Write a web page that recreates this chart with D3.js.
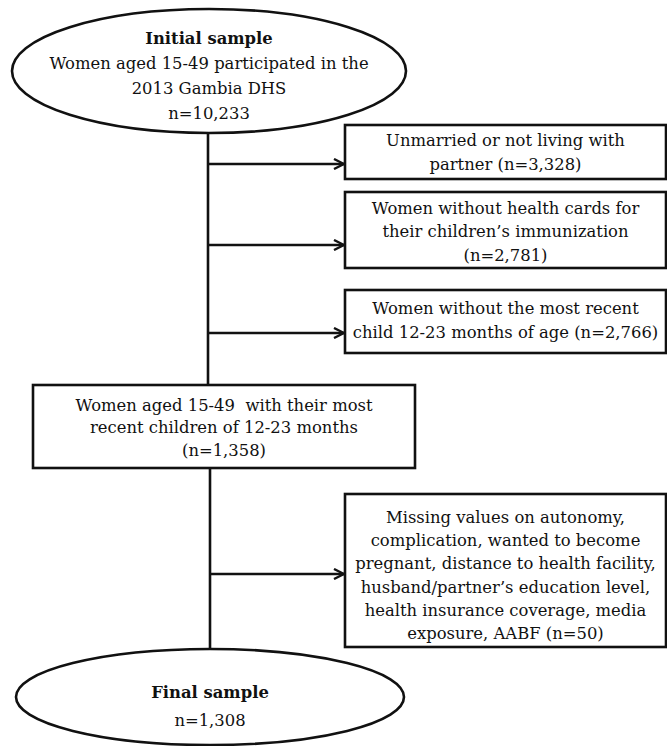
<!DOCTYPE html>
<html>
<head>
<meta charset="utf-8">
<script src="https://cdn.jsdelivr.net/npm/d3@7"></script>
<style>
  body { margin: 0; background: #fff; }
  text { font-family: "DejaVu Serif", serif; fill: #111; white-space: pre; }
</style>
</head>
<body>
<div id="chart"></div>
<script>
// Flow of the sample, top to bottom
var stageTitles = ["Initial sample", null, "Final sample"];
var stageLines = [
    ["Women aged 15-49 participated in the", "2013 Gambia DHS", "n=%n"],
    ["Women aged 15-49  with their most", "recent children of 12-23 months", "(n=%n)"],
    ["n=%n"]
];
var stageCounts = [10233, 1358, 1308];

// Excluded groups, in order
var exclusionLines = [
    ["Unmarried or not living with", "partner (n=%n)"],
    ["Women without health cards for", "their children\u2019s immunization", "(n=%n)"],
    ["Women without the most recent", "child 12-23 months of age (n=%n)"],
    ["Missing values on autonomy,", "complication, wanted to become", "pregnant, distance to health facility,",
        "husband/partner\u2019s education level,", "health insurance coverage, media", "exposure, AABF (n=%n)"]
];
var exclusionCounts = [3328, 2781, 2766, 50];

// Layout (pixels)
var opts = {
    width: 667,
    height: 746,
    fontSize: 16.4,
    stroke: 2.6,
    stages: [
        { shape: "ellipse", cx: 209, cy: 71, rx: 197, ry: 62, firstLine: 38, lineHeight: 25 },
        { shape: "rect", x: 33, y: 385, w: 382, h: 83, firstLine: 405, lineHeight: 22.5 },
        { shape: "ellipse", cx: 210, cy: 697, rx: 194, ry: 48, firstLine: 692, lineHeight: 28 }
    ],
    exclusions: [
        { y: 125, h: 54, firstLine: 140, lineHeight: 24, arrowY: 164, trunkX: 208 },
        { y: 192, h: 76, firstLine: 208, lineHeight: 23.5, arrowY: 245, trunkX: 208 },
        { y: 290, h: 63, firstLine: 308, lineHeight: 24, arrowY: 333, trunkX: 208 },
        { y: 494, h: 153, firstLine: 517, lineHeight: 23.3, arrowY: 574, trunkX: 210 }
    ],
    boxLeft: 345,
    boxRight: 666
};

var fmt = d3.format(",");

var svg = d3.select("#chart")
    .append("svg")
    .attr("width", opts.width)
    .attr("height", opts.height);

svg.append("defs").append("marker")
    .attr("id", "arrow")
    .attr("viewBox", "0 0 12 12")
    .attr("refX", 11)
    .attr("refY", 6)
    .attr("markerUnits", "userSpaceOnUse")
    .attr("markerWidth", 12)
    .attr("markerHeight", 12)
    .attr("orient", "auto")
    .append("path")
    .attr("d", "M1,1L11,6L1,11")
    .attr("fill", "none")
    .attr("stroke", "#111")
    .attr("stroke-width", 2.4);

// trunk lines between stages
var s = opts.stages;
var trunks = [
    { x: 208, y1: s[0].cy + s[0].ry, y2: s[1].y },
    { x: 210, y1: s[1].y + s[1].h, y2: s[2].cy - s[2].ry }
];
svg.append("g").selectAll("line")
    .data(trunks)
    .enter().append("line")
    .attr("x1", function(d) { return d.x; })
    .attr("x2", function(d) { return d.x; })
    .attr("y1", function(d) { return d.y1; })
    .attr("y2", function(d) { return d.y2; })
    .attr("stroke", "#111")
    .attr("stroke-width", opts.stroke);

// stage shapes
var stage = svg.append("g").selectAll("g")
    .data(stageCounts)
    .enter().append("g");

stage.each(function(count, i) {
    var g = d3.select(this);
    var L = opts.stages[i];
    var cx;
    if (L.shape === "ellipse") {
        cx = L.cx;
        g.append("ellipse")
            .attr("cx", L.cx).attr("cy", L.cy)
            .attr("rx", L.rx).attr("ry", L.ry)
            .attr("fill", "#fff").attr("stroke", "#111")
            .attr("stroke-width", opts.stroke);
    } else {
        cx = L.x + L.w / 2;
        g.append("rect")
            .attr("x", L.x).attr("y", L.y)
            .attr("width", L.w).attr("height", L.h)
            .attr("fill", "#fff").attr("stroke", "#111")
            .attr("stroke-width", opts.stroke);
    }
    var lines = [];
    if (stageTitles[i]) lines.push({ t: stageTitles[i], bold: true });
    stageLines[i].forEach(function(t) {
        lines.push({ t: t.replace("%n", fmt(count)), bold: false });
    });
    g.selectAll("text")
        .data(lines)
        .enter().append("text")
        .attr("x", cx)
        .attr("y", function(d, j) { return L.firstLine + j * L.lineHeight; })
        .attr("dy", "0.35em")
        .attr("text-anchor", "middle")
        .attr("font-size", opts.fontSize)
        .attr("font-weight", function(d) { return d.bold ? "bold" : "normal"; })
        .text(function(d) { return d.t; });
});

// exclusion boxes + arrows
var excl = svg.append("g").selectAll("g")
    .data(exclusionCounts)
    .enter().append("g");

excl.each(function(count, i) {
    var g = d3.select(this);
    var L = opts.exclusions[i];
    g.append("line")
        .attr("x1", L.trunkX).attr("x2", opts.boxLeft - 1)
        .attr("y1", L.arrowY).attr("y2", L.arrowY)
        .attr("stroke", "#111")
        .attr("stroke-width", opts.stroke)
        .attr("marker-end", "url(#arrow)");
    g.append("rect")
        .attr("x", opts.boxLeft).attr("y", L.y)
        .attr("width", opts.boxRight - opts.boxLeft).attr("height", L.h)
        .attr("fill", "#fff").attr("stroke", "#111")
        .attr("stroke-width", opts.stroke);
    g.selectAll("text")
        .data(exclusionLines[i])
        .enter().append("text")
        .attr("x", (opts.boxLeft + opts.boxRight) / 2)
        .attr("y", function(d, j) { return L.firstLine + j * L.lineHeight; })
        .attr("dy", "0.35em")
        .attr("text-anchor", "middle")
        .attr("font-size", opts.fontSize)
        .text(function(d) { return d.replace("%n", fmt(count)); });
});
</script>
</body>
</html>
